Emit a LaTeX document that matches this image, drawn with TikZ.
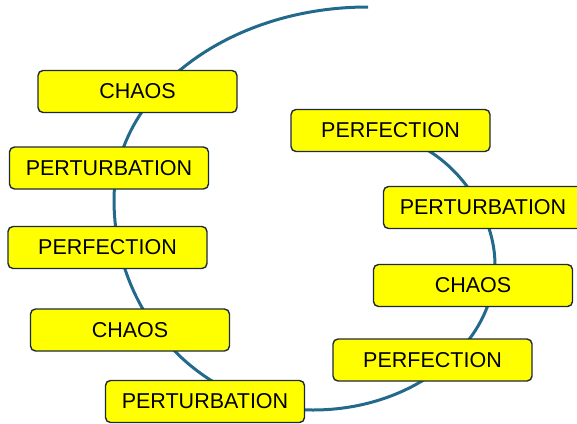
\documentclass[tikz,border=0pt]{standalone}
\usepackage{fontspec}
\setmainfont{Liberation Sans}
\usepackage{tikz}
\usetikzlibrary{calc}

\definecolor{loopblue}{RGB}{34,105,140}
\definecolor{boxedge}{RGB}{28,42,60}
\definecolor{boxfill}{RGB}{255,255,0}
\tikzset{stage/.style={draw=boxedge, line width=1.4pt, fill=boxfill, rounded corners=5pt,
  minimum width=199pt, minimum height=42pt, inner sep=0pt,
  font=\fontsize{21.5}{25}\selectfont}}

\begin{document}
\begin{tikzpicture}[x=1pt,y=-1pt]
\useasboundingbox (0,0) rectangle (577,423);
% the loop, drawn first so the boxes sit on top
\coordinate (top) at (368,7);
\coordinate (west) at (114,200);
\coordinate (south) at (313,410);
\coordinate (east) at (495,265);
\coordinate (tail) at (418,145);
\draw[loopblue, line width=3pt]
  (top) .. controls (228,7) and (114,93) .. (west)
        .. controls (114,316) and (203,410) .. (south)
        .. controls (413,410) and (495,345) .. (east)
        .. controls (495,215) and (460,165) .. (tail);
% left side
\node[stage] (chaosA) at (137.5,91.5) {CHAOS};
\node[stage] (pertA) at (109,168) {PERTURBATION};
\node[stage] (perfA) at (107.5,247.5) {PERFECTION};
\node[stage] (chaosB) at (130,330) {CHAOS};
\node[stage] (pertB) at (205,401.5) {PERTURBATION};
% right side
\node[stage] (perfB) at (390.5,130.5) {PERFECTION};
\node[stage] (pertC) at (483,207.5) {PERTURBATION};
\node[stage] (chaosC) at (473,285.5) {CHAOS};
\node[stage] (perfC) at (432.5,360) {PERFECTION};
\end{tikzpicture}
\end{document}
